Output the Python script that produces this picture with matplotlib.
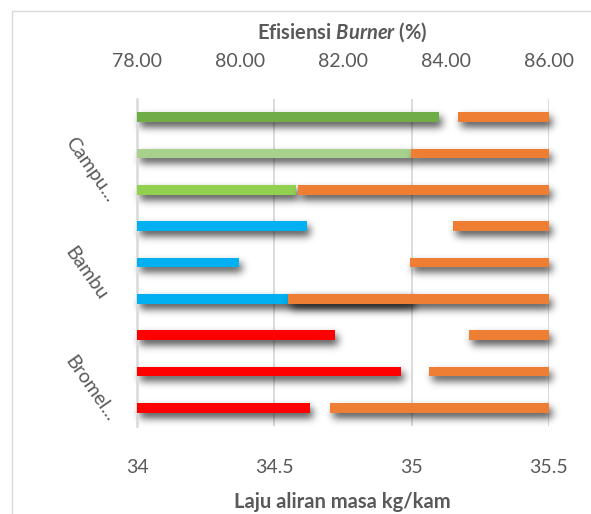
import numpy as np
import matplotlib
matplotlib.use("Agg")
import matplotlib.pyplot as plt
from matplotlib.patches import Rectangle

plt.rcParams["font.family"] = ["Lato", "DejaVu Sans"]
plt.rcParams["mathtext.fontset"] = "custom"
plt.rcParams["mathtext.rm"] = "Lato:bold"
plt.rcParams["mathtext.it"] = "Lato:italic:bold"
plt.rcParams["mathtext.bf"] = "Lato:bold"

# ---- data -------------------------------------------------------------
group_names = ["Campu...", "Bambu", "Bromel..."]
group_rows = [[0, 1, 2], [3, 4, 5], [6, 7, 8]]
mass_flow = [35.10, 35.00, 34.58, 34.62, 34.37, 35.00, 34.72, 34.96, 34.63]
efficiency = [84.23, 83.32, 81.12, 84.14, 83.30, 80.93, 84.45, 83.67, 81.75]
mass_colors = ["#70AD47", "#A9D18E", "#92D050",
               "#00B0F0", "#00B0F0", "#00B0F0",
               "#FF0000", "#FF0000", "#FF0000"]
eff_color = "#EF7E35"
mass_ticks = [34, 34.5, 35, 35.5]
mass_tick_labels = ["34", "34.5", "35", "35.5"]
eff_ticks = [78, 80, 82, 84, 86]
eff_tick_labels = ["78.00", "80.00", "82.00", "84.00", "86.00"]
mass_min, mass_max = 34, 35.5
eff_min, eff_max = 78, 86

TEXT = "#595959"
GRID = "#D9D9D9"


# ---- soft drop shadow for bars -----------------------------------------
def _kernel(sigma):
    r = int(3 * sigma) + 1
    x = np.arange(-r, r + 1)
    k = np.exp(-0.5 * (x / sigma) ** 2)
    return k / k.sum()


class DropShadow:
    def __init__(self, sigma=4.0, alpha=0.7, dx=3, dy=5):
        self.sigma, self.alpha, self.dx, self.dy = sigma, alpha, dx, dy
        self.k = _kernel(sigma)

    def __call__(self, im, dpi):
        pad = int(3 * self.sigma) + max(abs(self.dx), abs(self.dy)) + 2
        src = np.pad(im, [(pad, pad), (pad, pad), (0, 0)], "constant")
        a = src[..., 3].astype(float)
        a = np.apply_along_axis(lambda m: np.convolve(m, self.k, mode="same"), 0, a)
        a = np.apply_along_axis(lambda m: np.convolve(m, self.k, mode="same"), 1, a)
        a = np.roll(a, self.dy, axis=0)
        a = np.roll(a, self.dx, axis=1)
        out = np.zeros_like(src)
        out[..., 3] = np.clip(a * self.alpha, 0, 1)
        return out, -pad, -pad


def shadowed_barh(axis, y, width, left, height, colors, z):
    sh = axis.barh(y, width, left=left, height=height, color="k",
                   zorder=z - 0.5, linewidth=0)
    for r in sh:
        r.set_agg_filter(DropShadow())
        r.set_clip_on(False)
    axis.barh(y, width, left=left, height=height, color=colors,
              zorder=z, linewidth=0)


# ---- figure -------------------------------------------------------------
fig = plt.figure(figsize=(5.91, 5.14), dpi=100)
fig.patch.set_facecolor("white")
fig.patches.append(Rectangle((12 / 591, -0.1), 1.2, 1.1 - 11 / 514,
                             transform=fig.transFigure, fill=False,
                             ec=GRID, lw=1.0))

ax = fig.add_axes([137 / 591, 1 - 426 / 514, 412 / 591, 327 / 514])
y = np.arange(len(mass_flow))
bar_h = 0.275

mf = np.array(mass_flow)
shadowed_barh(ax, y, mf - mass_min, mass_min, bar_h, mass_colors, 3)
ax.set_xlim(mass_min, mass_max)
ax.set_ylim(len(y) - 0.5, -0.5)
ax.set_xticks(mass_ticks)
ax.set_xticklabels(mass_tick_labels)
ax.set_yticks([])
ax.grid(axis="x", color=GRID, lw=1.3)
ax.set_axisbelow(True)
for s in ["top", "right", "bottom"]:
    ax.spines[s].set_visible(False)
ax.spines["left"].set_color(GRID)
ax.spines["left"].set_linewidth(1.8)
ax.tick_params(axis="x", length=0, pad=24, labelsize=14, labelcolor=TEXT)

ax2 = ax.twiny()
ef = np.array(efficiency)
shadowed_barh(ax2, y, eff_max - ef, ef, bar_h, eff_color, 3)
ax2.set_xlim(eff_min, eff_max)
ax2.set_xticks(eff_ticks)
ax2.set_xticklabels(eff_tick_labels)
for s in ax2.spines.values():
    s.set_visible(False)
ax2.tick_params(axis="x", length=0, pad=21, labelsize=14, labelcolor=TEXT)

# group labels along the category axis
for name, rows in zip(group_names, group_rows):
    ax.annotate(name, xy=(0, np.mean(rows)),
                xycoords=("axes fraction", "data"),
                xytext=(-49, 10), textcoords="offset points",
                rotation=-55, rotation_mode="anchor",
                ha="left", va="center", fontsize=14, color=TEXT)

fig.text(342 / 591, 1 - 32 / 514, r"Efisiensi $\mathit{Burner}$ (%)",
         ha="center", va="center", fontsize=14.5, weight="bold", color=TEXT)
fig.text(342 / 591, 1 - 502 / 514, "Laju aliran masa kg/kam",
         ha="center", va="center", fontsize=14.5, weight="bold", color=TEXT)

fig.savefig("out.png", dpi=100)
